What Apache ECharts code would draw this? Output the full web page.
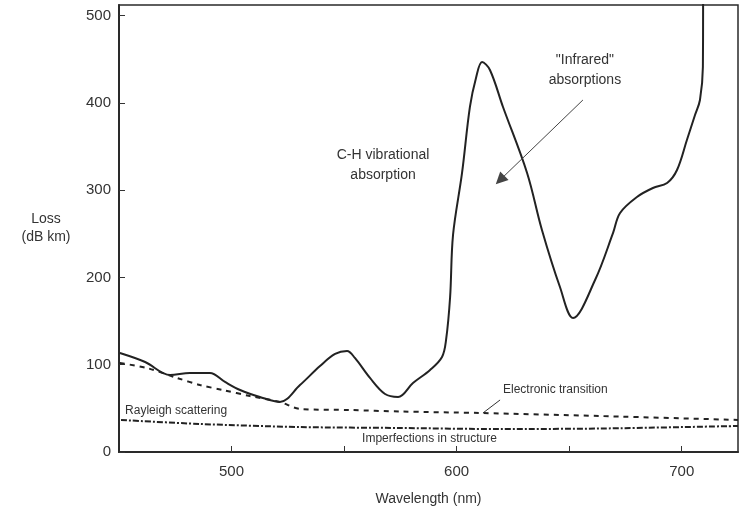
<!DOCTYPE html>
<html>
<head>
<meta charset="utf-8">
<style>html,body{margin:0;padding:0;background:#fff;}#c{width:745px;height:514px;}</style>
<script src="https://cdn.jsdelivr.net/npm/echarts@6/dist/echarts.min.js"></script>
</head>
<body>
<div id="c"></div>
<script>
// Total loss (solid curve)
const totalWavelength = [450.4,461.6,472.7,481.5,490.4,497.1,503.8,512.6,521.5,530.4,539.3,546.0,551.3,554.8,561.5,568.2,574.0,580.6,588.2,593.5,595.3,597.1,598.4,602.4,605.9,608.6,611.3,614.8,620.6,631.3,637.9,645.9,651.7,661.5,669.5,672.6,680.1,687.2,693.5,697.9,702.3,705.9,708.1,709.4,709.5];
const totalLoss = [113.4,103.1,88.2,90.5,90.5,80.2,71.0,63.0,57.3,76.7,98.5,112.3,115.7,107.7,84.8,66.4,63.0,79.0,93.9,108.8,128.3,177.5,248.6,319.6,395.2,428.4,446.7,437.6,395.2,319.6,254.3,189.0,153.5,197.0,250.9,273.8,292.1,302.4,308.1,323.0,357.4,386.0,403.2,441.0,520];
// Rayleigh scattering + electronic transition (dashed)
const scatterWavelength = [450.4,462.4,475.8,486.0,496.2,508.2,521.5,530.4,552.6,574.8,610.4,663.7,725];
const scatterLoss = [101.9,96.2,84.8,76.7,71.0,64.1,57.3,49.3,48.1,46.4,44.7,41.2,36.7];
// Imperfections in structure (dash-dot)
const imperfWavelength = [450.9,486.0,530.4,574.8,619.3,663.7,725];
const imperfLoss = [36.7,32.1,28.6,27.5,26.3,26.9,29.8];
// Axis ticks
const xTickLabels = [500,600,700];
const yTickLabels = [0,100,200,300,400,500];

const pair = (xs, ys) => xs.map((x, i) => [x, ys[i]]);
const font = 'Liberation Sans, Arial, sans-serif';
const chart = echarts.init(document.getElementById('c'));

chart.setOption({
  backgroundColor: '#fff',
  animation: false,
  grid: {left: 119, right: 7, top: 5, bottom: 62, show: true, borderColor: '#2a2a2a', borderWidth: 1.5},
  xAxis: {
    type: 'value', min: 450, max: 725, interval: 50,
    name: 'Wavelength (nm)', nameLocation: 'middle', nameGap: 40,
    nameTextStyle: {fontFamily: font, fontSize: 14, color: '#333'},
    axisLine: {lineStyle: {color: '#2a2a2a', width: 2}},
    axisTick: {inside: true, length: 6, lineStyle: {color: '#333'}},
    splitLine: {show: false},
    axisLabel: {fontFamily: font, fontSize: 15, color: '#333', margin: 12, showMaxLabel: false, showMinLabel: false,
      formatter: v => xTickLabels.includes(v) ? String(v) : ''}
  },
  yAxis: {
    type: 'value', min: 0, max: 512, interval: 100,
    name: 'Loss\n(dB km)', nameLocation: 'middle', nameGap: 73, nameRotate: 0,
    nameTextStyle: {fontFamily: font, fontSize: 14, color: '#333', lineHeight: 18, align: 'center'},
    axisLine: {lineStyle: {color: '#2a2a2a', width: 2}},
    axisTick: {inside: true, length: 6, lineStyle: {color: '#333'}},
    splitLine: {show: false},
    axisLabel: {fontFamily: font, fontSize: 15, color: '#333', margin: 8, showMaxLabel: false,
      formatter: v => yTickLabels.includes(v) ? String(v) : ''}
  },
  series: [
    {
      type: 'line', data: pair(totalWavelength, totalLoss), showSymbol: false, smooth: 0.35,
      lineStyle: {color: '#222', width: 2}, clip: true,
      markLine: {
        silent: true, animation: false, label: {show: false},
        symbol: ['none', 'triangle'], symbolSize: 12,
        lineStyle: {color: '#444', width: 1, type: 'solid'},
        data: [[{coord: [656.1, 403.2]}, {coord: [619.3, 311.6]}]]
      }
    },
    {
      type: 'line', data: pair(scatterWavelength, scatterLoss), showSymbol: false, smooth: 0.3,
      lineStyle: {color: '#222', width: 2, type: [5, 5]},
      markLine: {
        silent: true, animation: false, label: {show: false}, symbol: ['none', 'none'],
        lineStyle: {color: '#333', width: 1, type: 'solid'},
        data: [[{coord: [611.7, 44.7]}, {coord: [619.3, 59.6]}]]
      }
    },
    {
      type: 'line', data: pair(imperfWavelength, imperfLoss), showSymbol: false, smooth: 0.3,
      lineStyle: {color: '#222', width: 2, type: [6, 2, 2, 2]}
    }
  ]
});

// Text annotations anchored in data coordinates
const notes = [
  {text: 'C-H vibrational\nabsorption', at: [567.3, 328.8], align: 'center', size: 14},
  {text: '"Infrared"\nabsorptions', at: [657.0, 437.6], align: 'center', size: 14},
  {text: 'Electronic transition', at: [620.6, 71.0], align: 'left', size: 12},
  {text: 'Rayleigh scattering', at: [452.7, 47.0], align: 'left', size: 12},
  {text: 'Imperfections in structure', at: [558.0, 14.9], align: 'left', size: 12}
];
chart.setOption({
  graphic: notes.map(n => {
    const p = chart.convertToPixel({gridIndex: 0}, n.at);
    return {
      type: 'text', x: p[0], y: p[1], silent: true,
      style: {text: n.text, font: n.size + 'px ' + font, fill: '#333', align: n.align, verticalAlign: 'middle', lineHeight: n.size + 6}
    };
  })
});
</script>
</body>
</html>
